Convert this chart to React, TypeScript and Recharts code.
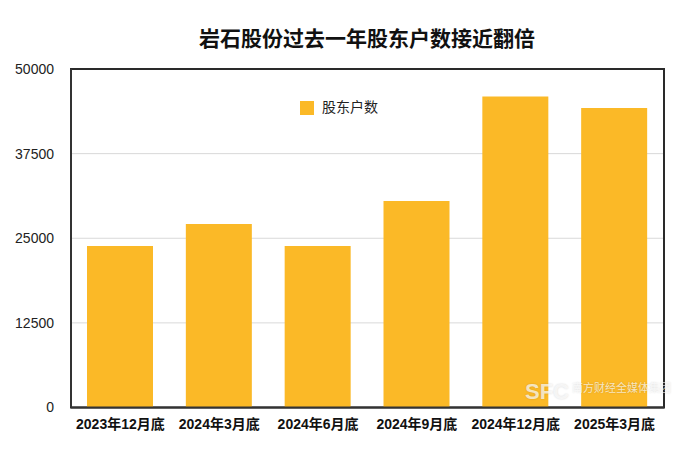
import { BarChart, Bar, XAxis, YAxis, CartesianGrid, Legend, ReferenceArea } from 'recharts';

const FONT = '"Liberation Sans", "Noto Sans CJK SC", sans-serif';

const categories = ['2023年12月底', '2024年3月底', '2024年6月底', '2024年9月底', '2024年12月底', '2025年3月底'];
const holders = [23850, 27100, 23850, 30500, 45950, 44250];
const yTicks = [0, 12500, 25000, 37500, 50000];

const data = categories.map((name, i) => ({ name, holders: holders[i] }));

const markStyle = { position: 'absolute', color: 'rgba(255,255,255,0.72)', textShadow: '0 0 2px rgba(0,0,0,0.16)', whiteSpace: 'nowrap' } as const;

export default function App() {
    return (
        <div style={{ position: 'absolute', left: 0, top: 0, width: 700, height: 451, background: '#fff', fontFamily: FONT, overflow: 'hidden' }}>
            <div style={{ position: 'absolute', left: 0, top: 24, width: 734, textAlign: 'center', fontSize: 21, fontWeight: 700, color: '#111', lineHeight: '30px' }}>
                岩石股份过去一年股东户数接近翻倍
            </div>
            <BarChart width={700} height={451} data={data} margin={{ top: 69, right: 36, bottom: 0, left: 0 }}>
                <CartesianGrid vertical={false} stroke="#d9d9d9" strokeWidth={1} />
                <XAxis
                    dataKey="name"
                    interval={0}
                    axisLine={{ stroke: '#333', strokeWidth: 2 }}
                    tickLine={false}
                    tick={{ fontSize: 14, fontWeight: 700, fill: '#111', fontFamily: FONT }}
                    tickMargin={6}
                    height={43.5}
                />
                <YAxis
                    domain={[0, 50000]}
                    ticks={yTicks}
                    width={71}
                    axisLine={{ stroke: '#333', strokeWidth: 2 }}
                    tickLine={false}
                    tick={{ fontSize: 14, fill: '#222', fontFamily: FONT }}
                    tickMargin={11}
                />
                <Legend
                    layout="horizontal"
                    align="center"
                    verticalAlign="middle"
                    iconType="square"
                    iconSize={14}
                    wrapperStyle={{ left: 294, top: 96, width: 100, fontSize: 14 }}
                    formatter={(v) => <span style={{ color: '#222', marginLeft: 4 }}>{v}</span>}
                />
                <Bar dataKey="holders" name="股东户数" fill="#fbb927" barSize={66} isAnimationActive={false} />
                <ReferenceArea y1={0} y2={50000} fill="none" fillOpacity={0} stroke="#2a2a2a" strokeWidth={2} />
            </BarChart>
            <div style={{ ...markStyle, left: 525, top: 379, fontSize: 22, fontWeight: 700, lineHeight: '26px' }}>SFC</div>
            <div style={{ ...markStyle, left: 572, top: 379, fontSize: 11, lineHeight: '18px' }}>南方财经全媒体集团</div>
        </div>
    );
}
